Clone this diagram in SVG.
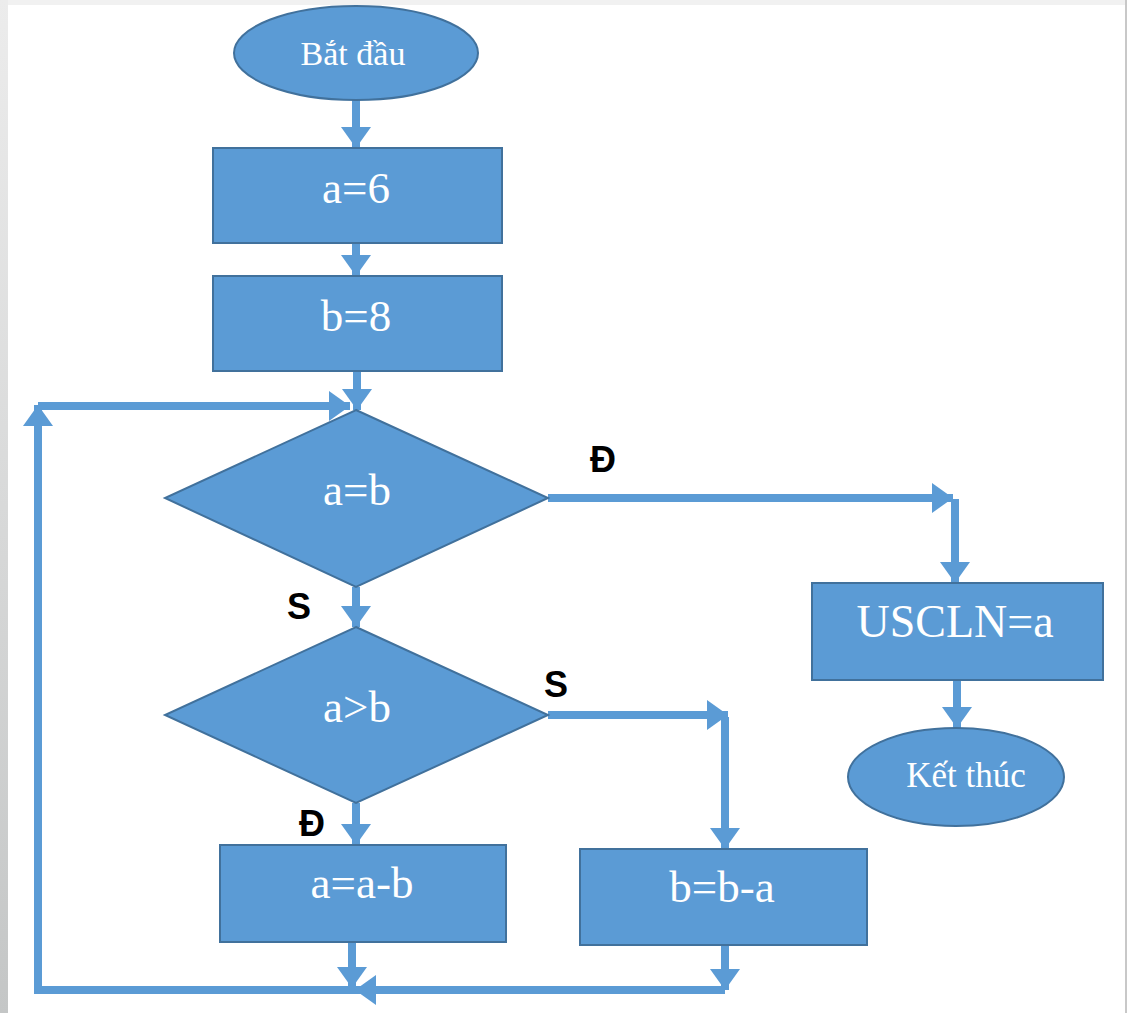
<svg xmlns="http://www.w3.org/2000/svg" width="1127" height="1013" viewBox="0 0 1127 1013">
<defs>
<style>
.shape{fill:#5b9bd5;stroke:#41719c;stroke-width:2}
.t{fill:#ffffff;font-family:"Liberation Serif","Times New Roman",serif;text-anchor:middle}
.lbl{fill:#000000;font-family:"Liberation Sans",Arial,sans-serif;font-weight:bold;font-size:36px}
.c{fill:none;stroke:#5b9bd5;stroke-width:8;marker-end:url(#ah)}
</style>
<marker id="ah" markerUnits="userSpaceOnUse" markerWidth="22" markerHeight="30" viewBox="0 0 22 30" refX="21" refY="15" orient="auto">
<path d="M0 0 L21 15 L0 30 Z" fill="#5b9bd5"/>
</marker>
<linearGradient id="lg" x1="0" y1="0" x2="0" y2="1">
<stop offset="0" stop-color="#ececec"/>
<stop offset="1" stop-color="#c4c6c6"/>
</linearGradient>
</defs>
<rect x="0" y="0" width="1127" height="1013" fill="#ffffff"/>
<rect x="0" y="0" width="1127" height="5" fill="#f1f1f1"/>
<rect x="0" y="0" width="8" height="1013" fill="url(#lg)"/>
<rect x="1125" y="0" width="2" height="1013" fill="#c8c8c8"/>

<g id="connectors">
<path class="c" d="M356 100 V148"/>
<path class="c" d="M356 243 V276"/>
<path class="c" d="M357 371 V410"/>
<path class="c" d="M356 587 V627"/>
<path class="c" d="M548 498 H953"/>
<path class="c" d="M955 499 V583"/>
<path class="c" d="M356 803 V845"/>
<path class="c" d="M548 715 H728"/>
<path class="c" d="M725 717 V849"/>
<path class="c" d="M957 680 V728"/>
<path class="c" d="M352 942 V988"/>
<path class="c" d="M725 945 V990"/>
<path class="c" d="M725 990 H355"/>
<path class="c" d="M360 990 H38 V405"/>
<path class="c" d="M38 406 H350"/>
</g>

<g id="start">
<ellipse class="shape" cx="356" cy="53" rx="122" ry="47"/>
<text class="t" x="353" y="65" font-size="34">Bắt đầu</text>
</g>
<g id="a6">
<rect class="shape" x="213" y="148" width="289" height="95"/>
<text class="t" x="356" y="203" font-size="45">a=6</text>
</g>
<g id="b8">
<rect class="shape" x="213" y="276" width="289" height="95"/>
<text class="t" x="356" y="331" font-size="45">b=8</text>
</g>
<g id="cond1">
<polygon class="shape" points="356,410 548,498 356,587 165,498"/>
<text class="t" x="357" y="505" font-size="45">a=b</text>
</g>
<g id="cond2">
<polygon class="shape" points="356,627 548,715 356,803 165,715"/>
<text class="t" x="357" y="722" font-size="45">a&gt;b</text>
</g>
<g id="aab">
<rect class="shape" x="220" y="845" width="286" height="97"/>
<text class="t" x="362" y="898" font-size="45">a=a-b</text>
</g>
<g id="bba">
<rect class="shape" x="580" y="849" width="287" height="96"/>
<text class="t" x="722" y="902" font-size="45">b=b-a</text>
</g>
<g id="uscln">
<rect class="shape" x="812" y="583" width="291" height="97"/>
<text class="t" x="955" y="637" font-size="46">USCLN=a</text>
</g>
<g id="end">
<ellipse class="shape" cx="956" cy="777" rx="108" ry="49"/>
<text class="t" x="966" y="787" font-size="35">Kết thúc</text>
</g>

<g id="labels">
<text class="lbl" x="590" y="472">Đ</text>
<text class="lbl" x="287" y="619">S</text>
<text class="lbl" x="544" y="697">S</text>
<text class="lbl" x="299" y="836">Đ</text>
</g>
</svg>
